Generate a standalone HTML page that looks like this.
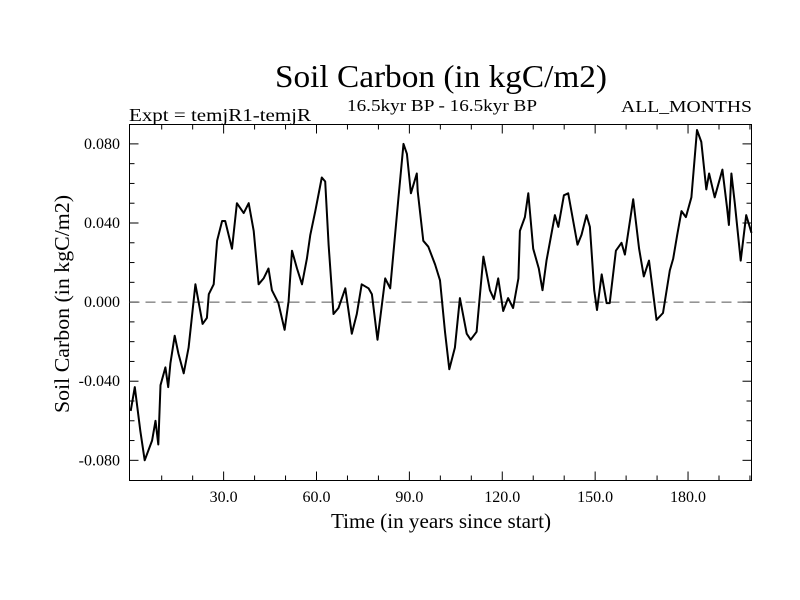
<!DOCTYPE html>
<html><head><meta charset="utf-8"><style>
body{margin:0;background:#fff;}
svg{display:block;font-family:"Liberation Serif",serif;}
</style></head><body>
<svg id="chart" width="800" height="600">
<rect width="800" height="600" fill="#fff"/>
<text x="441" y="87" font-size="32" text-anchor="middle" textLength="332" lengthAdjust="spacingAndGlyphs">Soil Carbon (in kgC/m2)</text>
<text x="129" y="121" font-size="18" textLength="182" lengthAdjust="spacingAndGlyphs">Expt = temjR1-temjR</text>
<text x="442" y="111" font-size="17" text-anchor="middle" textLength="190" lengthAdjust="spacingAndGlyphs">16.5kyr BP - 16.5kyr BP</text>
<text x="752" y="112" font-size="17" text-anchor="end" textLength="131" lengthAdjust="spacingAndGlyphs">ALL_MONTHS</text>
<text x="441" y="528" font-size="21" text-anchor="middle" textLength="220" lengthAdjust="spacingAndGlyphs">Time (in years since start)</text>
<text x="0" y="0" font-size="21" text-anchor="middle" textLength="218" lengthAdjust="spacingAndGlyphs" transform="translate(69,304) rotate(-90)">Soil Carbon (in kgC/m2)</text>
<g id="axes"></g>
<g id="plot"></g>
</svg>
<script>
const years = [0,1.3,3.1,4.5,6.9,8.0,8.9,9.6,11.2,12.1,12.8,14.2,15.4,17.1,18.7,20.9,23.2,24.6,25.2,26.8,27.9,29.5,30.5,32.7,34.3,36.5,38.1,39.7,41.3,42.9,44.5,45.6,47.7,49.7,51.0,52.1,53.7,55.3,56.9,58.0,59.6,61.7,62.8,63.9,65.5,67.1,69.3,71.4,73.0,74.6,76.8,77.9,79.7,82.2,83.8,86.5,88.1,89.2,90.5,92.4,92.7,94.5,96.1,98.3,99.9,101.5,102.9,104.7,106.3,108.5,109.8,111.7,113.9,116.0,117.3,118.7,120.3,121.9,123.5,125.2,125.7,127.3,128.4,130.0,131.8,133.0,134.3,137.0,138.1,139.9,141.3,142.9,144.3,145.6,147.2,148.3,149.7,150.6,152.1,153.7,154.7,156.7,158.5,159.6,162.3,164.2,165.7,167.4,169.8,171.9,174.1,175.2,176.5,177.9,179.3,181.1,182.9,184.3,185.9,186.8,188.6,191.1,192.6,193.2,194.0,195.1,197.0,198.8,200.5];
const carbon = [-0.055,-0.043,-0.065,-0.080,-0.070,-0.060,-0.072,-0.042,-0.033,-0.043,-0.031,-0.017,-0.026,-0.036,-0.023,0.009,-0.011,-0.008,0.004,0.009,0.031,0.041,0.041,0.027,0.050,0.045,0.050,0.036,0.009,0.012,0.017,0.006,-0.0005,-0.014,0.0005,0.026,0.017,0.009,0.022,0.034,0.046,0.063,0.061,0.029,-0.006,-0.003,0.007,-0.016,-0.006,0.009,0.007,0.004,-0.019,0.012,0.007,0.053,0.080,0.075,0.055,0.065,0.056,0.031,0.028,0.019,0.011,-0.015,-0.034,-0.023,0.002,-0.016,-0.019,-0.015,0.023,0.006,0.0015,0.012,-0.0045,0.002,-0.003,0.012,0.036,0.043,0.055,0.027,0.017,0.006,0.021,0.044,0.038,0.054,0.055,0.041,0.029,0.034,0.044,0.038,0.006,-0.004,0.014,-0.0005,-0.0005,0.026,0.030,0.024,0.052,0.027,0.013,0.021,-0.009,-0.0055,0.016,0.022,0.034,0.046,0.043,0.053,0.087,0.081,0.057,0.065,0.053,0.067,0.048,0.039,0.065,0.050,0.021,0.044,0.035];
const xTickLabels = ["30.0","60.0","90.0","120.0","150.0","180.0"];
const xTickValues = [30,60,90,120,150,180];
const yTickLabels = ["0.080","0.040","0.000","-0.040","-0.080"];
const yTickValues = [0.08,0.04,0,-0.04,-0.08];

const L=129.5,R=751.5,T=124.5,B=480.5;
const X0=-0.4,X1=200.5,Y0=-0.0902,Y1=0.0898;
function sx(v){return L+(v-X0)/(X1-X0)*(R-L);}
function sy(v){return B-(v-Y0)/(Y1-Y0)*(B-T);}
const NS="http://www.w3.org/2000/svg";
const axes=document.getElementById('axes'), plot=document.getElementById('plot');
function mk(tag,attrs,parent){const e=document.createElementNS(NS,tag);for(const k in attrs)e.setAttribute(k,attrs[k]);parent.appendChild(e);return e;}

const frame=mk('rect',{x:L,y:T,width:R-L,height:B-T,fill:'none',stroke:'#000','stroke-width':1},axes);



for(let v=10;v<=200;v+=10){
  const major=(v%30===0), len=major?9:5, x=sx(v);
  const t1=mk('line',{x1:x,x2:x,y1:B,y2:B-len,stroke:'#000','stroke-width':1},axes);
  
  
  const t2=mk('line',{x1:x,x2:x,y1:T,y2:T+len,stroke:'#000','stroke-width':1},axes);
  
  
}
xTickValues.forEach((v,i)=>{
  const t=mk('text',{x:sx(v),y:502,'font-size':16,'text-anchor':'middle'},axes);
  t.textContent=xTickLabels[i];
  
  
});
for(let k=-8;k<=8;k++){
  const v=k*0.01, y=sy(v), major=(k%4===0), len=major?9:5;
  const t1=mk('line',{x1:L,x2:L+len,y1:y,y2:y,stroke:'#000','stroke-width':1},axes);
  
  
  const t2=mk('line',{x1:R,x2:R-len,y1:y,y2:y,stroke:'#000','stroke-width':1},axes);
  
  
}
yTickValues.forEach((v,i)=>{
  const t=mk('text',{x:120,y:sy(v)+5,'font-size':16,'text-anchor':'end'},axes);
  t.textContent=yTickLabels[i];
  
  
});
const z=mk('line',{x1:L,x2:R,y1:sy(0),y2:sy(0),stroke:'#555','stroke-width':1,'stroke-dasharray':'10,6'},plot);


const pts=years.map((yr,i)=>sx(yr).toFixed(1)+','+sy(carbon[i]).toFixed(1)).join(' ');
const line=mk('polyline',{points:pts,fill:'none',stroke:'#000','stroke-width':2,'stroke-linejoin':'round'},plot);


</script>
</body></html>
